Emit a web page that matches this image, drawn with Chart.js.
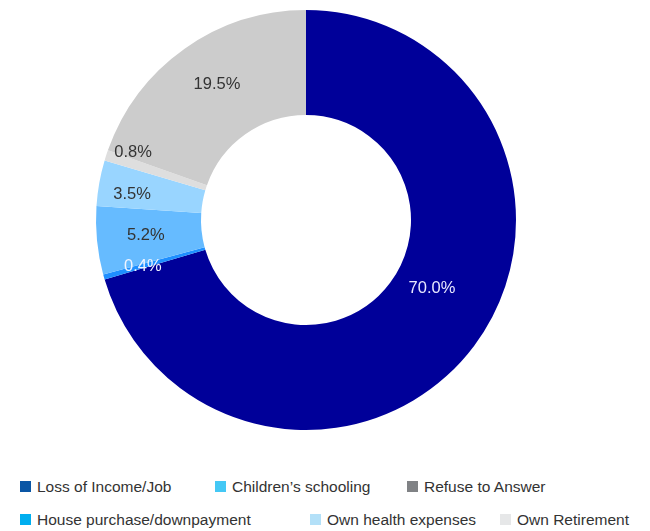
<!DOCTYPE html>
<html>
<head>
<meta charset="utf-8">
<script src="https://cdn.jsdelivr.net/npm/chart.js@4/dist/chart.umd.min.js"></script>
<style>
  html, body { margin: 0; padding: 0; background: #fff; }
  #wrap { position: relative; width: 650px; height: 531px; overflow: hidden; }
  #chart { position: absolute; left: 0; top: 0; }
  .lg { position: absolute; font-family: "Liberation Sans", Arial, sans-serif; font-size: 15.5px; color: #333; white-space: nowrap; line-height: 18px; }
  .lg i { position: absolute; left: 0; top: 3px; width: 11px; height: 11px; }
  .lg span { position: absolute; left: 17px; top: 0; }
</style>
</head>
<body>
<div id="wrap">
  <canvas id="chart" width="650" height="440"></canvas>
</div>
<script>
// Shares of respondents by main financial worry (%), clockwise from the top
const categories = [
  "Loss of Income/Job",
  "House purchase/downpayment",
  "Children\u2019s schooling",
  "Own health expenses",
  "Refuse to Answer",
  "Own Retirement"
];
const shares = [70.0, 0.4, 5.2, 3.5, 0.8, 19.5];
const shareLabels = ["70.0%", "0.4%", "5.2%", "3.5%", "0.8%", "19.5%"];

// Ring colours and the swatch colours used in the key below the chart
const sliceColors = ["#000099", "#1e8fff", "#66bbff", "#99d5ff", "#dedede", "#cccccc"];
const keyColors   = ["#0a56a5", "#00aeef", "#44c8f5", "#b3e0f8", "#808285", "#e6e7e8"];
const labelColors = ["#e8e8ff", "#f0f4ff", "#333333", "#333333", "#333333", "#333333"];
// label placement: distance from the centre (in ring radii) and position along the slice
const labelRadius = [0.682, 0.808, 0.766, 0.837, 0.884, 0.774];
const labelAlong  = [0.467, 0.33, 0.50, 0.347, 1.66, 0.53];

// Draw the value labels on top of the ring
const sliceLabels = {
  id: "sliceLabels",
  afterDatasetsDraw(chart) {
    const ctx = chart.ctx;
    const meta = chart.getDatasetMeta(0);
    ctx.save();
    ctx.font = '16.5px "Liberation Sans", Arial, sans-serif';
    ctx.textAlign = "center";
    ctx.textBaseline = "middle";
    meta.data.forEach((arc, i) => {
      const p = arc.getProps(["x", "y", "startAngle", "endAngle", "outerRadius"], true);
      const a = p.startAngle + (p.endAngle - p.startAngle) * labelAlong[i];
      const r = p.outerRadius * labelRadius[i];
      ctx.fillStyle = labelColors[i];
      ctx.fillText(shareLabels[i], p.x + Math.cos(a) * r, p.y + Math.sin(a) * r);
    });
    ctx.restore();
  }
};

new Chart(document.getElementById("chart"), {
  type: "doughnut",
  data: {
    labels: categories,
    datasets: [{
      data: shares,
      backgroundColor: sliceColors,
      borderWidth: 0
    }]
  },
  options: {
    responsive: false,
    animation: false,
    cutout: "50%",
    layout: { padding: { left: 96, right: 134, top: 10, bottom: 10 } },
    plugins: {
      legend: { display: false },
      tooltip: { enabled: false }
    }
  },
  plugins: [sliceLabels]
});

// Key: two rows of three entries, built from the category list
const keyOrder = [[0, 2, 4], [1, 3, 5]];
const keyLeft = [[20, 215, 407], [20, 310, 500]];
const keyTop = [478, 511];
const wrap = document.getElementById("wrap");
keyOrder.forEach((row, r) => {
  row.forEach((idx, c) => {
    const item = document.createElement("div");
    item.className = "lg";
    item.style.left = keyLeft[r][c] + "px";
    item.style.top = keyTop[r] + "px";
    const sw = document.createElement("i");
    sw.style.background = keyColors[idx];
    const tx = document.createElement("span");
    tx.textContent = categories[idx];
    item.appendChild(sw);
    item.appendChild(tx);
    wrap.appendChild(item);
  });
});
</script>
</body>
</html>
